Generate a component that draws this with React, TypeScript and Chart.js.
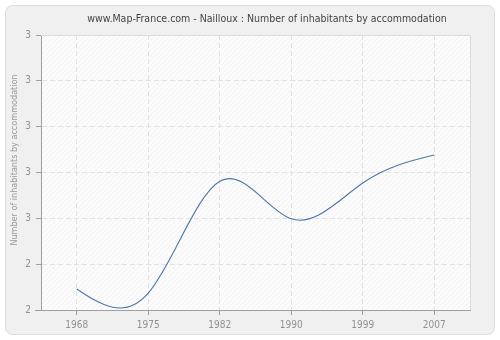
import React, { useEffect, useRef } from 'react';
import { Chart, registerables } from 'chart.js';

Chart.register(...registerables);

const years: string[] = ['1968', '1975', '1982', '1990', '1999', '2007'];
const inhabitantsPerAccommodation: number[] = [2.346, 2.337, 2.581, 2.499, 2.577, 2.638];
const yAxisMin = 2.3;
const yAxisMax = 2.9;
const yAxisStep = 0.1;
const chartTitle = 'www.Map-France.com - Nailloux : Number of inhabitants by accommodation';
const yAxisTitle = 'Number of inhabitants by accommodation';

const FONT = "'DejaVu Sans Condensed', 'DejaVu Sans', sans-serif";

const splinePlugin = {
  id: 'naturalSpline',
  beforeDatasetDraw(chart: any, args: any) {
    const meta = chart.getDatasetMeta(args.index);
    const line = meta.dataset;
    if (!line) return;
    line.updateControlPoints(chart.chartArea, meta.iScale.axis);
    const pts = meta.data;
    const n = pts.length;
    if (n < 3) return;
    const xs = pts.map((p: any) => p.x);
    const ys = pts.map((p: any) => p.y);
    const h: number[] = [];
    for (let i = 0; i < n - 1; i++) h.push(xs[i + 1] - xs[i]);
    const M = new Array(n).fill(0);
    const a: number[] = [], b: number[] = [], c: number[] = [], d: number[] = [];
    for (let i = 1; i < n - 1; i++) {
      a.push(h[i - 1]);
      b.push(2 * (h[i - 1] + h[i]));
      c.push(h[i]);
      d.push(6 * ((ys[i + 1] - ys[i]) / h[i] - (ys[i] - ys[i - 1]) / h[i - 1]));
    }
    const m = b.length;
    for (let i = 1; i < m; i++) {
      const w = a[i] / b[i - 1];
      b[i] -= w * c[i - 1];
      d[i] -= w * d[i - 1];
    }
    const sol = new Array(m).fill(0);
    sol[m - 1] = d[m - 1] / b[m - 1];
    for (let i = m - 2; i >= 0; i--) sol[i] = (d[i] - c[i] * sol[i + 1]) / b[i];
    for (let i = 0; i < m; i++) M[i + 1] = sol[i];
    for (let i = 0; i < n - 1; i++) {
      const hi = h[i];
      const sl = (ys[i + 1] - ys[i]) / hi;
      const s0 = sl - (hi * (2 * M[i] + M[i + 1])) / 6;
      const s1 = sl + (hi * (M[i] + 2 * M[i + 1])) / 6;
      pts[i].cp2x = xs[i] + hi / 3;
      pts[i].cp2y = ys[i] + (s0 * hi) / 3;
      pts[i + 1].cp1x = xs[i + 1] - hi / 3;
      pts[i + 1].cp1y = ys[i + 1] - (s1 * hi) / 3;
    }
  },
};

const decorPlugin = {
  id: 'decor',
  beforeDraw(chart: any) {
    const ctx = chart.ctx;
    const { left, top, right, bottom } = chart.chartArea;
    ctx.save();
    ctx.fillStyle = '#ffffff';
    ctx.fillRect(0, 0, chart.width, chart.height);
    ctx.beginPath();
    ctx.roundRect(5.5, 5.5, 489, 329, 7);
    ctx.fillStyle = '#f0f0f0';
    ctx.fill();
    ctx.strokeStyle = '#dedede';
    ctx.lineWidth = 1;
    ctx.stroke();
    ctx.fillStyle = '#fcfcfc';
    ctx.fillRect(left, top, right - left, bottom - top);
    ctx.beginPath();
    ctx.rect(left, top, right - left, bottom - top);
    ctx.clip();
    ctx.strokeStyle = '#f1f1f1';
    ctx.lineWidth = 1;
    const hgt = bottom - top;
    ctx.beginPath();
    for (let k = -hgt; k < right - left; k += 5) {
      ctx.moveTo(left + k, bottom);
      ctx.lineTo(left + k + hgt, top);
    }
    ctx.stroke();
    ctx.restore();
  },
  beforeDatasetsDraw(chart: any) {
    const ctx = chart.ctx;
    const { left, top, right, bottom } = chart.chartArea;
    ctx.save();
    ctx.strokeStyle = '#dddddd';
    ctx.lineWidth = 1;
    ctx.beginPath();
    ctx.moveTo(left, top + 0.5);
    ctx.lineTo(right + 0.5, top + 0.5);
    ctx.lineTo(right + 0.5, bottom);
    ctx.stroke();
    ctx.restore();
  },
  afterDraw(chart: any) {
    const ctx = chart.ctx;
    const { left, bottom } = chart.chartArea;
    ctx.save();
    ctx.strokeStyle = '#a0a0a0';
    ctx.lineWidth = 1;
    ctx.beginPath();
    ctx.moveTo(left - 6, bottom + 0.5);
    ctx.lineTo(left, bottom + 0.5);
    ctx.stroke();
    ctx.fillStyle = '#444444';
    ctx.font = `10.5px ${FONT}`;
    ctx.textAlign = 'center';
    ctx.textBaseline = 'alphabetic';
    ctx.fillText(chartTitle, 267, 22);
    ctx.translate(17, 160);
    ctx.rotate(-Math.PI / 2);
    ctx.fillStyle = '#999999';
    ctx.font = `9px ${FONT}`;
    ctx.textBaseline = 'alphabetic';
    ctx.fillText(yAxisTitle, 0, 0);
    ctx.restore();
  },
};

export default function App() {
  const ref = useRef<HTMLCanvasElement | null>(null);
  useEffect(() => {
    document.body.style.margin = '0';
    if (!ref.current) return;
    const chart = new Chart(ref.current, {
      type: 'line',
      data: {
        labels: years,
        datasets: [
          {
            data: inhabitantsPerAccommodation,
            borderColor: '#4a78aa',
            borderWidth: 1.1,
            pointRadius: 0,
            tension: 0.4,
            fill: false,
          },
        ],
      },
      options: {
        responsive: false,
        animation: false,
        layout: { padding: { top: 35, right: 30, left: 0, bottom: 0 } },
        plugins: {
          legend: { display: false },
          title: { display: false },
          tooltip: { enabled: false },
        },
        scales: {
          x: {
            type: 'category',
            offset: true,
            grid: {
              offset: false,
              color: '#e2e2e2',
              tickColor: '#a0a0a0',
              tickLength: 5,
            },
            border: { color: '#a0a0a0', dash: [5, 3] },
            ticks: { color: '#919191', font: { family: FONT, size: 10 }, padding: 4, maxRotation: 0 },
            afterFit: (s: any) => {
              s.height = 30;
            },
          },
          y: {
            min: yAxisMin,
            max: yAxisMax,
            grid: {
              color: '#e2e2e2',
              tickColor: '#a0a0a0',
              tickLength: 5,
            },
            border: { color: '#a0a0a0', dash: [5, 3] },
            ticks: {
              stepSize: yAxisStep,
              color: '#919191',
              font: { family: FONT, size: 10 },
              padding: 5,
              callback: (v: any) => String(Math.round(Number(v))),
            },
            afterFit: (s: any) => {
              s.width = 41;
            },
          },
        },
      },
      plugins: [decorPlugin, splinePlugin],
    });
    return () => chart.destroy();
  }, []);
  return (
    <div style={{ width: 500, height: 340 }}>
      <canvas ref={ref} width={500} height={340} style={{ display: 'block' }} />
    </div>
  );
}
